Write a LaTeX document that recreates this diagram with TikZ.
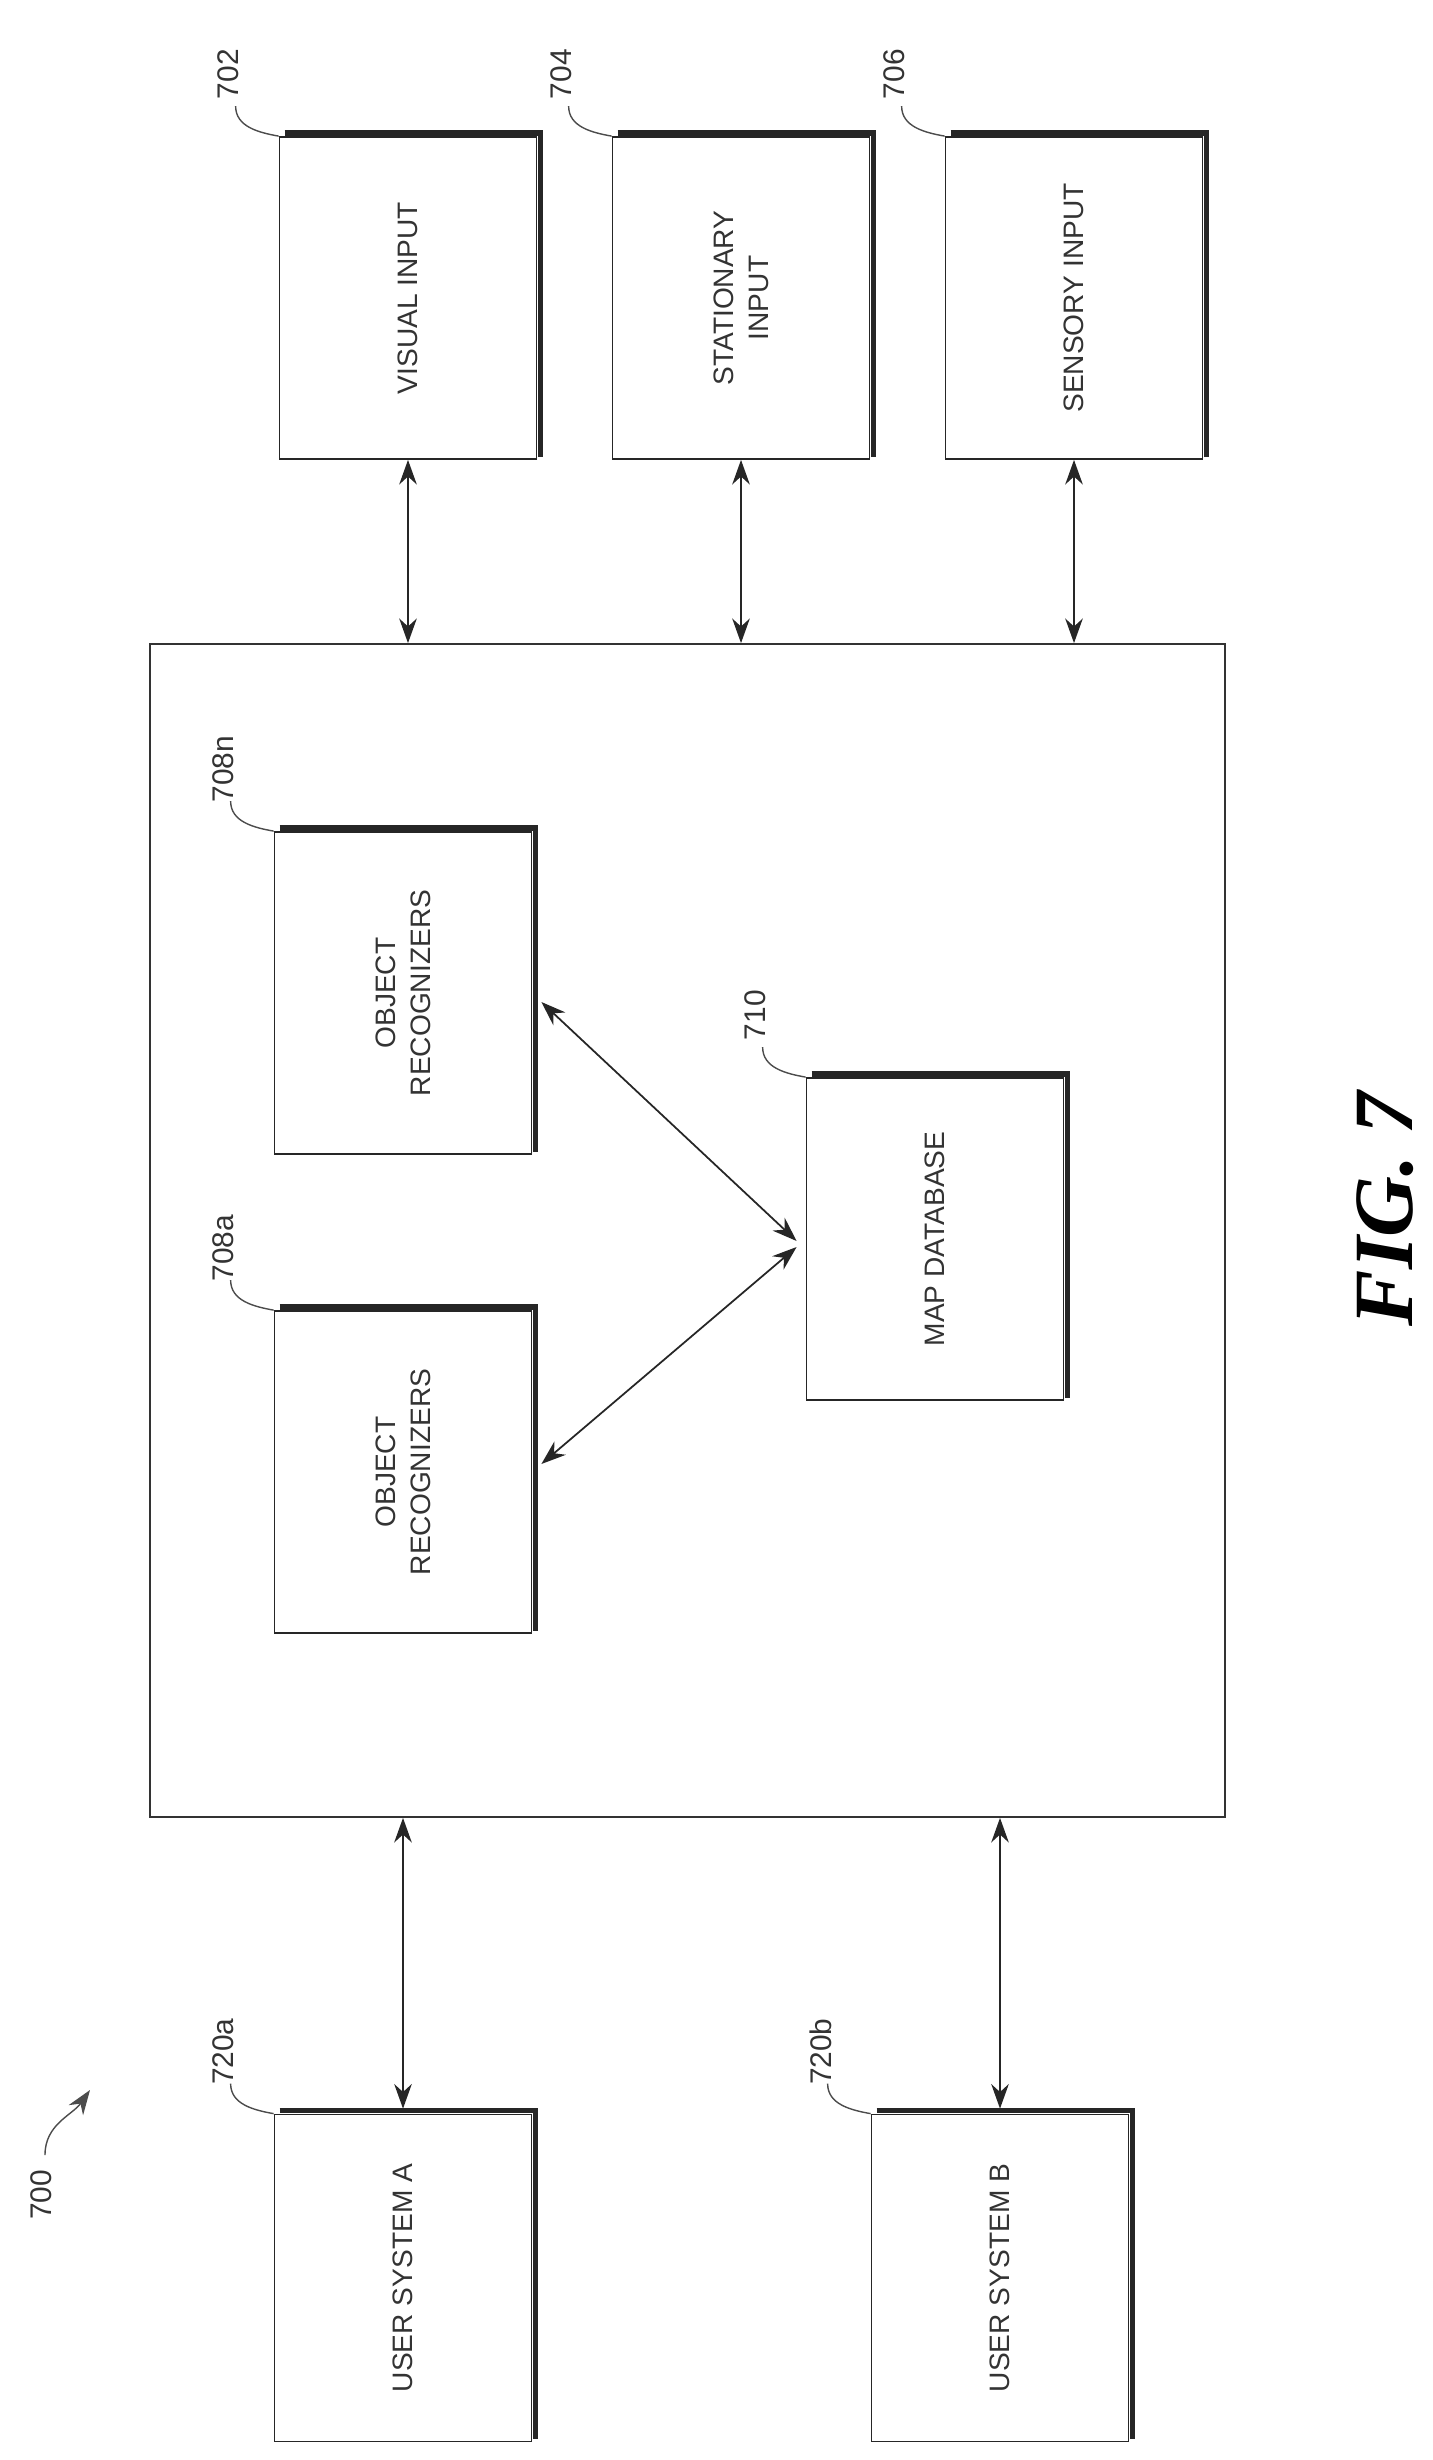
\documentclass[tikz,border=0pt]{standalone}
\usepackage{fontspec}
\setmainfont{Liberation Serif}
\setsansfont{Liberation Sans}
\usetikzlibrary{arrows.meta,calc}

\tikzset{
    blk/.style={draw=black!85, line width=0.5pt, fill=white, minimum width=2.57cm, minimum height=3.22cm, inner sep=0pt},
    txt/.style={rotate=90, font=\sffamily\fontsize{8}{10}\selectfont, text=black!80, align=center},
    refnum/.style={rotate=90, font=\sffamily\fontsize{8.5}{10}\selectfont, text=black!80},
    leader/.style={draw=black!70, line width=0.4pt},
    link/.style={draw=black!85, line width=0.5pt, {Stealth[length=7pt,width=5pt]}-{Stealth[length=7pt,width=5pt]}},
}

\begin{document}
\begin{tikzpicture}
    \useasboundingbox (0,0) rectangle (14.32,-24.60);

    % Outer system box
    \node[draw=black!80, line width=0.5pt, minimum width=10.75cm, minimum height=11.73cm, inner sep=0pt] (sys) at (6.875,-12.305) {};

    % Input blocks
    \node[blk] (vis) at (4.08,-2.98) {};
    \node[blk] (sta) at (7.41,-2.98) {};
    \node[blk] (sen) at (10.74,-2.98) {};

    % Inner blocks
    \node[blk] (obn) at (4.03,-9.93) {};
    \node[blk] (oba) at (4.03,-14.72) {};
    \node[blk] (map) at (9.35,-12.39) {};

    % User systems
    \node[blk, minimum height=3.27cm] (usa) at (4.03,-22.78) {};
    \node[blk, minimum height=3.27cm] (usb) at (10.00,-22.78) {};

    % Shadows on top and right
    \foreach \n in {vis,sta,sen,obn,oba,map,usa,usb} {
        \draw[black!85, line width=1.6pt] ($(\n.north west)+(0.06,0.03)$) -- ($(\n.north east)+(0.03,0.03)$) -- ($(\n.south east)+(0.03,0.03)$);
    }

    % Texts
    \node[txt] (vistx) at (vis) {VISUAL INPUT};
    \node[txt] (statx) at (sta) {STATIONARY\\INPUT};
    \node[txt] (sentx) at (sen) {SENSORY INPUT};
    \node[txt] (obntx) at (obn) {OBJECT\\RECOGNIZERS};
    \node[txt] (obatx) at (oba) {OBJECT\\RECOGNIZERS};
    \node[txt] (maptx) at (map) {MAP DATABASE};
    \node[txt] (usatx) at (usa) {USER SYSTEM A};
    \node[txt] (usbtx) at (usb) {USER SYSTEM B};

    % Reference numerals with leaders
    \foreach \n/\l in {vis/702,sta/704,sen/706,obn/708n,oba/708a,map/710,usa/720a,usb/720b} {
        \node[refnum, anchor=center] (\n num) at ($(\n.north west)+(-0.50,0.62)$) {\l};
        \draw[leader] ($(\n.north west)+(-0.43,0.30)$) to[out=-90, in=170] (\n.north west);
    }

    % Connectors
    \draw[link] (vis.south) -- (vis.south |- sys.north);
    \draw[link] (sta.south) -- (sta.south |- sys.north);
    \draw[link] (sen.south) -- (sen.south |- sys.north);
    \draw[link] ($(obn.east)+(0.09,-0.09)$) -- ($(map.west)+(-0.09,-0.02)$);
    \draw[link] ($(oba.east)+(0.09,0.08)$) -- ($(map.west)+(-0.09,-0.08)$);
    \draw[link] (usa.north |- sys.south) -- ($(usa.north)+(0,0.05)$);
    \draw[link] (usb.north |- sys.south) -- ($(usb.north)+(0,0.05)$);

    % Figure numeral
    \node[refnum] (fignum) at (0.41,-21.95) {700};
    \coordinate (figarrow) at (0.90,-20.90);
    \draw[leader, -{Stealth[length=7pt,width=5pt]}] (0.45,-21.55) to[out=90, in=-125] (figarrow);

    % Caption
    \node[rotate=90, font=\bfseries\itshape\fontsize{24}{28}\selectfont] (cap) at (13.85,-12.09) {FIG. 7};
\end{tikzpicture}
\end{document}
